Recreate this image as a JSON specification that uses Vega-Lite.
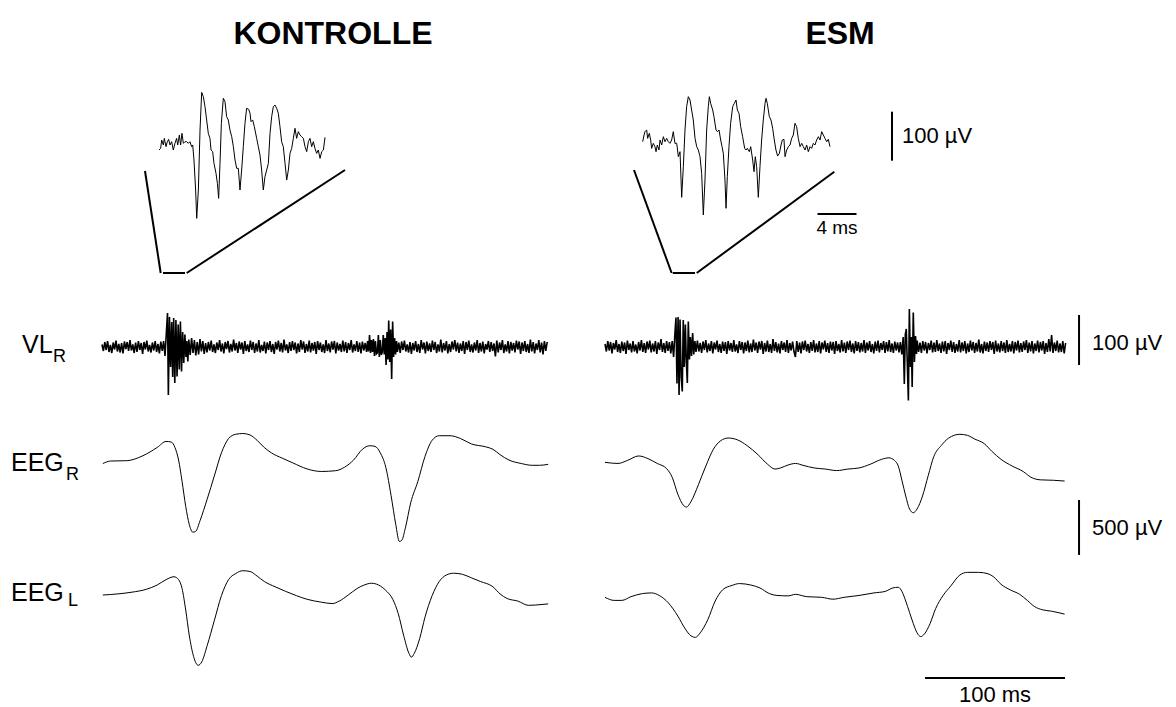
{
"$schema": "https://vega.github.io/schema/vega-lite/v6.json",
"width": 1176, "height": 707, "autosize": "none", "padding": 0,
"background": "white",
"config": {"view": {"stroke": null}, "font": "Liberation Sans"},
"datasets": {
"insK": [{"t":0.10,"v":-8.2},{"t":0.27,"v":-4.8},{"t":0.38,"v":12.2},{"t":0.55,"v":2.0},{"t":0.65,"v":15.6},{"t":0.82,"v":-1.4},{"t":0.96,"v":8.8},{"t":1.09,"v":13.6},{"t":1.23,"v":2.0},{"t":1.40,"v":8.8},{"t":1.57,"v":-8.2},{"t":1.74,"v":5.4},{"t":1.91,"v":15.6},{"t":2.02,"v":2.0},{"t":2.19,"v":22.4},{"t":2.32,"v":2.0},{"t":2.46,"v":25.9},{"t":2.60,"v":5.4},{"t":2.77,"v":8.8},{"t":2.94,"v":8.8},{"t":3.11,"v":5.4},{"t":3.28,"v":8.8},{"t":3.45,"v":-1.4},{"t":3.56,"v":2.0},{"t":3.69,"v":-28.6},{"t":3.86,"v":-89.8},{"t":3.97,"v":-147.6},{"t":4.14,"v":-89.8},{"t":4.31,"v":32.7},{"t":4.48,"v":109.5},{"t":4.65,"v":100.7},{"t":4.82,"v":80.3},{"t":4.99,"v":53.1},{"t":5.16,"v":25.9},{"t":5.33,"v":15.6},{"t":5.44,"v":-8.2},{"t":5.61,"v":-11.6},{"t":5.74,"v":-35.4},{"t":5.95,"v":-55.8},{"t":6.09,"v":-76.2},{"t":6.22,"v":-106.8},{"t":6.36,"v":-35.4},{"t":6.50,"v":46.3},{"t":6.70,"v":97.3},{"t":6.87,"v":90.5},{"t":7.04,"v":59.9},{"t":7.21,"v":53.1},{"t":7.38,"v":32.7},{"t":7.56,"v":19.0},{"t":7.73,"v":-1.4},{"t":7.90,"v":-28.6},{"t":8.07,"v":-45.6},{"t":8.24,"v":-45.6},{"t":8.41,"v":-89.8},{"t":8.58,"v":-49.0},{"t":8.75,"v":-1.4},{"t":8.92,"v":46.3},{"t":9.09,"v":76.9},{"t":9.30,"v":74.8},{"t":9.44,"v":66.7},{"t":9.54,"v":49.7},{"t":9.71,"v":53.1},{"t":9.88,"v":39.5},{"t":10.12,"v":15.6},{"t":10.29,"v":-1.4},{"t":10.46,"v":-18.4},{"t":10.63,"v":-49.0},{"t":10.80,"v":-89.8},{"t":10.97,"v":-62.6},{"t":11.15,"v":-49.0},{"t":11.32,"v":-35.4},{"t":11.49,"v":25.9},{"t":11.66,"v":59.9},{"t":11.83,"v":80.3},{"t":12.00,"v":83.7},{"t":12.17,"v":76.9},{"t":12.34,"v":66.7},{"t":12.51,"v":39.5},{"t":12.68,"v":8.8},{"t":12.85,"v":-1.4},{"t":13.03,"v":-35.4},{"t":13.20,"v":-69.4},{"t":13.37,"v":-49.0},{"t":13.54,"v":-15.0},{"t":13.71,"v":-4.8},{"t":13.88,"v":15.6},{"t":14.05,"v":36.1},{"t":14.22,"v":15.6},{"t":14.39,"v":29.3},{"t":14.56,"v":22.4},{"t":14.74,"v":19.0},{"t":14.91,"v":15.6},{"t":15.08,"v":-1.4},{"t":15.25,"v":-11.6},{"t":15.42,"v":8.8},{"t":15.59,"v":15.6},{"t":15.76,"v":-1.4},{"t":15.93,"v":8.8},{"t":16.10,"v":-4.8},{"t":16.27,"v":-15.0},{"t":16.44,"v":-8.2},{"t":16.62,"v":-25.2},{"t":16.79,"v":-11.6},{"t":16.96,"v":-8.2},{"t":17.13,"v":17.7}],
"insE": [{"t":0.07,"v":8.8},{"t":0.21,"v":22.4},{"t":0.31,"v":29.3},{"t":0.48,"v":32.7},{"t":0.58,"v":15.6},{"t":0.75,"v":25.9},{"t":0.89,"v":12.2},{"t":0.99,"v":-4.8},{"t":1.16,"v":5.4},{"t":1.33,"v":-1.4},{"t":1.44,"v":-11.6},{"t":1.57,"v":2.0},{"t":1.74,"v":-8.2},{"t":1.85,"v":12.2},{"t":2.02,"v":2.0},{"t":2.19,"v":19.0},{"t":2.36,"v":8.8},{"t":2.53,"v":15.6},{"t":2.70,"v":8.8},{"t":2.87,"v":5.4},{"t":3.04,"v":12.2},{"t":3.21,"v":29.3},{"t":3.38,"v":5.4},{"t":3.56,"v":5.4},{"t":3.73,"v":-21.8},{"t":3.90,"v":-11.6},{"t":4.07,"v":-104.8},{"t":4.24,"v":-42.2},{"t":4.41,"v":32.7},{"t":4.58,"v":80.3},{"t":4.75,"v":100.7},{"t":4.92,"v":93.9},{"t":5.09,"v":73.5},{"t":5.26,"v":53.1},{"t":5.44,"v":15.6},{"t":5.61,"v":-1.4},{"t":5.78,"v":-8.2},{"t":5.95,"v":-21.8},{"t":6.12,"v":-55.8},{"t":6.29,"v":-140.8},{"t":6.46,"v":-69.4},{"t":6.63,"v":32.7},{"t":6.80,"v":80.3},{"t":6.91,"v":100.7},{"t":7.04,"v":87.1},{"t":7.25,"v":73.5},{"t":7.38,"v":59.9},{"t":7.59,"v":32.7},{"t":7.73,"v":29.3},{"t":7.90,"v":32.7},{"t":8.07,"v":12.2},{"t":8.21,"v":-1.4},{"t":8.34,"v":-15.0},{"t":8.51,"v":-69.4},{"t":8.62,"v":-127.2},{"t":8.75,"v":-62.6},{"t":8.92,"v":-1.4},{"t":9.09,"v":46.3},{"t":9.30,"v":80.3},{"t":9.47,"v":87.1},{"t":9.64,"v":93.9},{"t":9.78,"v":73.5},{"t":9.95,"v":66.7},{"t":10.12,"v":39.5},{"t":10.32,"v":19.0},{"t":10.53,"v":-4.8},{"t":10.67,"v":-8.2},{"t":10.80,"v":-4.8},{"t":11.01,"v":-11.6},{"t":11.15,"v":-1.4},{"t":11.35,"v":-28.6},{"t":11.49,"v":-52.4},{"t":11.62,"v":-21.8},{"t":11.76,"v":-42.2},{"t":11.93,"v":-104.8},{"t":12.10,"v":-42.2},{"t":12.27,"v":12.2},{"t":12.44,"v":53.1},{"t":12.62,"v":87.1},{"t":12.72,"v":97.3},{"t":12.85,"v":87.1},{"t":13.06,"v":59.9},{"t":13.23,"v":53.1},{"t":13.40,"v":36.1},{"t":13.57,"v":12.2},{"t":13.74,"v":-8.2},{"t":13.91,"v":-20.4},{"t":14.09,"v":-15.0},{"t":14.26,"v":2.0},{"t":14.39,"v":12.2},{"t":14.56,"v":13.6},{"t":14.67,"v":-21.8},{"t":14.84,"v":-8.2},{"t":15.01,"v":-1.4},{"t":15.18,"v":2.0},{"t":15.35,"v":15.6},{"t":15.52,"v":22.4},{"t":15.69,"v":46.3},{"t":15.86,"v":39.5},{"t":16.03,"v":15.6},{"t":16.21,"v":-1.4},{"t":16.38,"v":5.4},{"t":16.55,"v":-1.4},{"t":16.72,"v":-8.2},{"t":16.89,"v":2.0},{"t":17.06,"v":-11.6},{"t":17.23,"v":-1.4},{"t":17.40,"v":-4.8},{"t":17.57,"v":5.4},{"t":17.74,"v":2.0},{"t":17.91,"v":12.2},{"t":18.09,"v":19.0},{"t":18.26,"v":12.2},{"t":18.43,"v":29.3},{"t":18.60,"v":22.4},{"t":18.77,"v":15.6},{"t":18.94,"v":8.8},{"t":19.11,"v":13.6},{"t":19.28,"v":-1.4}],
"vlK": [{"t":0,"v":5},{"t":1,"v":-8},{"t":2,"v":10},{"t":3,"v":-6},{"t":4,"v":12},{"t":5,"v":-10},{"t":6,"v":4},{"t":7,"v":-12},{"t":8,"v":9},{"t":9,"v":-5},{"t":10,"v":13},{"t":11,"v":-9},{"t":12,"v":6},{"t":13,"v":-11},{"t":14,"v":8},{"t":15,"v":-13},{"t":16,"v":11},{"t":17,"v":-4},{"t":18,"v":10},{"t":19,"v":-8},{"t":20,"v":14},{"t":21,"v":-7},{"t":22,"v":5},{"t":23,"v":-12},{"t":24,"v":9},{"t":25,"v":-10},{"t":26,"v":12},{"t":27,"v":-6},{"t":28,"v":8},{"t":29,"v":-14},{"t":30,"v":10},{"t":31,"v":-5},{"t":32,"v":13},{"t":33,"v":-9},{"t":34,"v":4},{"t":35,"v":-11},{"t":36,"v":9},{"t":37,"v":-7},{"t":38,"v":12},{"t":39,"v":-10},{"t":40,"v":6},{"t":41,"v":-13},{"t":42,"v":11},{"t":43,"v":-8},{"t":44,"v":12},{"t":45,"v":-18},{"t":46,"v":30},{"t":46.8,"v":68},{"t":47.4,"v":-96},{"t":48.2,"v":60},{"t":49,"v":-40},{"t":49.8,"v":50},{"t":50.5,"v":-60},{"t":51.2,"v":58},{"t":52,"v":-72},{"t":52.8,"v":54},{"t":53.6,"v":-59},{"t":54.4,"v":45},{"t":55.2,"v":-45},{"t":56,"v":51},{"t":56.8,"v":-49},{"t":57.6,"v":30},{"t":58.4,"v":-32},{"t":59.2,"v":25},{"t":60,"v":-20},{"t":60.6,"v":12},{"t":61.3,"v":-29},{"t":62,"v":15},{"t":63,"v":-16},{"t":64,"v":18},{"t":65,"v":-12},{"t":66,"v":14},{"t":67,"v":-17},{"t":68,"v":10},{"t":69,"v":-15},{"t":70,"v":16},{"t":71,"v":-9},{"t":72,"v":12},{"t":73,"v":-14},{"t":74,"v":8},{"t":75,"v":-11},{"t":76,"v":10},{"t":77,"v":-7},{"t":78,"v":13},{"t":79,"v":-10},{"t":80,"v":5},{"t":81,"v":-12},{"t":82,"v":9},{"t":83,"v":-6},{"t":84,"v":14},{"t":85,"v":-9},{"t":86,"v":7},{"t":87,"v":-13},{"t":88,"v":10},{"t":89,"v":-4},{"t":90,"v":12},{"t":91,"v":-11},{"t":92,"v":6},{"t":93,"v":-9},{"t":94,"v":15},{"t":95,"v":-7},{"t":96,"v":8},{"t":97,"v":-12},{"t":98,"v":11},{"t":99,"v":-5},{"t":100,"v":9},{"t":101,"v":-14},{"t":102,"v":12},{"t":103,"v":-8},{"t":104,"v":5},{"t":105,"v":-10},{"t":106,"v":13},{"t":107,"v":-6},{"t":108,"v":10},{"t":109,"v":-12},{"t":110,"v":7},{"t":111,"v":-9},{"t":112,"v":14},{"t":113,"v":-11},{"t":114,"v":4},{"t":115,"v":-8},{"t":116,"v":11},{"t":117,"v":-13},{"t":118,"v":9},{"t":119,"v":-6},{"t":120,"v":12},{"t":121,"v":-10},{"t":122,"v":6},{"t":123,"v":-14},{"t":124,"v":10},{"t":125,"v":-5},{"t":126,"v":13},{"t":127,"v":-9},{"t":128,"v":8},{"t":129,"v":-11},{"t":130,"v":15},{"t":131,"v":-7},{"t":132,"v":5},{"t":133,"v":-12},{"t":134,"v":10},{"t":135,"v":-8},{"t":136,"v":12},{"t":137,"v":-6},{"t":138,"v":9},{"t":139,"v":-13},{"t":140,"v":7},{"t":141,"v":-10},{"t":142,"v":14},{"t":143,"v":-5},{"t":144,"v":11},{"t":145,"v":-12},{"t":146,"v":6},{"t":147,"v":-9},{"t":148,"v":13},{"t":149,"v":-11},{"t":150,"v":8},{"t":151,"v":-7},{"t":152,"v":10},{"t":153,"v":-14},{"t":154,"v":12},{"t":155,"v":-6},{"t":156,"v":9},{"t":157,"v":-10},{"t":158,"v":5},{"t":159,"v":-12},{"t":160,"v":14},{"t":161,"v":-8},{"t":162,"v":7},{"t":163,"v":-11},{"t":164,"v":11},{"t":165,"v":-5},{"t":166,"v":12},{"t":167,"v":-13},{"t":168,"v":9},{"t":169,"v":-7},{"t":170,"v":6},{"t":171,"v":-10},{"t":172,"v":13},{"t":173,"v":-9},{"t":174,"v":10},{"t":175,"v":-12},{"t":176,"v":8},{"t":177,"v":-6},{"t":178,"v":14},{"t":179,"v":-11},{"t":180,"v":5},{"t":181,"v":-8},{"t":182,"v":12},{"t":183,"v":-10},{"t":184,"v":9},{"t":185,"v":-13},{"t":186,"v":11},{"t":187,"v":-7},{"t":188,"v":8},{"t":189,"v":-10},{"t":189.7,"v":12},{"t":190.4,"v":-9},{"t":191.1,"v":24},{"t":191.8,"v":-12},{"t":192.5,"v":14},{"t":193.2,"v":-10},{"t":193.9,"v":16},{"t":194.6,"v":-18},{"t":195.3,"v":12},{"t":196,"v":-14},{"t":196.7,"v":-12},{"t":197.4,"v":24},{"t":198.1,"v":-20},{"t":198.8,"v":14},{"t":199.5,"v":-16},{"t":200.2,"v":-10},{"t":200.9,"v":24},{"t":201.6,"v":-15},{"t":202.3,"v":18},{"t":202.9,"v":-36},{"t":203.6,"v":30},{"t":204.2,"v":-25},{"t":204.8,"v":53},{"t":205.5,"v":-30},{"t":206.2,"v":35},{"t":206.9,"v":-64},{"t":207.6,"v":51},{"t":208.3,"v":-20},{"t":209,"v":18},{"t":209.7,"v":-15},{"t":210.4,"v":12},{"t":211,"v":-10},{"t":212,"v":9},{"t":213,"v":-12},{"t":214,"v":11},{"t":215,"v":-6},{"t":216,"v":13},{"t":217,"v":-9},{"t":218,"v":5},{"t":219,"v":-11},{"t":220,"v":10},{"t":221,"v":-14},{"t":222,"v":8},{"t":223,"v":-7},{"t":224,"v":12},{"t":225,"v":-10},{"t":226,"v":6},{"t":227,"v":-12},{"t":228,"v":14},{"t":229,"v":-5},{"t":230,"v":9},{"t":231,"v":-13},{"t":232,"v":11},{"t":233,"v":-8},{"t":234,"v":7},{"t":235,"v":-10},{"t":236,"v":13},{"t":237,"v":-6},{"t":238,"v":10},{"t":239,"v":-12},{"t":240,"v":5},{"t":241,"v":-9},{"t":242,"v":15},{"t":243,"v":-11},{"t":244,"v":8},{"t":245,"v":-7},{"t":246,"v":12},{"t":247,"v":-13},{"t":248,"v":6},{"t":249,"v":-10},{"t":250,"v":11},{"t":251,"v":-5},{"t":252,"v":14},{"t":253,"v":-9},{"t":254,"v":9},{"t":255,"v":-12},{"t":256,"v":7},{"t":257,"v":-8},{"t":258,"v":12},{"t":259,"v":-14},{"t":260,"v":10},{"t":261,"v":-6},{"t":262,"v":13},{"t":263,"v":-10},{"t":264,"v":5},{"t":265,"v":-11},{"t":266,"v":9},{"t":267,"v":-7},{"t":268,"v":14},{"t":269,"v":-12},{"t":270,"v":8},{"t":271,"v":-9},{"t":272,"v":11},{"t":273,"v":-13},{"t":274,"v":6},{"t":275,"v":-5},{"t":276,"v":12},{"t":277,"v":-10},{"t":278,"v":10},{"t":279,"v":-8},{"t":280,"v":7},{"t":281,"v":-19},{"t":282,"v":13},{"t":283,"v":-11},{"t":284,"v":9},{"t":285,"v":-6},{"t":286,"v":14},{"t":287,"v":-12},{"t":288,"v":5},{"t":289,"v":-9},{"t":290,"v":12},{"t":291,"v":-13},{"t":292,"v":10},{"t":293,"v":-7},{"t":294,"v":8},{"t":295,"v":-11},{"t":296,"v":13},{"t":297,"v":-5},{"t":298,"v":11},{"t":299,"v":-14},{"t":300,"v":9},{"t":301,"v":-8},{"t":302,"v":12},{"t":303,"v":-10},{"t":304,"v":6},{"t":305,"v":-12},{"t":306,"v":15},{"t":307,"v":-9},{"t":308,"v":10},{"t":309,"v":-13},{"t":310,"v":7},{"t":311,"v":-6},{"t":312,"v":14},{"t":313,"v":-11},{"t":314,"v":9},{"t":315,"v":-15},{"t":316,"v":12},{"t":317,"v":-8},{"t":318,"v":10}],
"vlE": [{"t":0,"v":6},{"t":1,"v":-9},{"t":2,"v":12},{"t":3,"v":-7},{"t":4,"v":10},{"t":5,"v":-13},{"t":6,"v":8},{"t":7,"v":-5},{"t":8,"v":14},{"t":9,"v":-10},{"t":10,"v":6},{"t":11,"v":-12},{"t":12,"v":11},{"t":13,"v":-8},{"t":14,"v":9},{"t":15,"v":-14},{"t":16,"v":13},{"t":17,"v":-6},{"t":18,"v":7},{"t":19,"v":-11},{"t":20,"v":12},{"t":21,"v":-9},{"t":22,"v":5},{"t":23,"v":-13},{"t":24,"v":10},{"t":25,"v":-7},{"t":26,"v":14},{"t":27,"v":-10},{"t":28,"v":8},{"t":29,"v":-12},{"t":30,"v":11},{"t":31,"v":-5},{"t":32,"v":13},{"t":33,"v":-11},{"t":34,"v":7},{"t":35,"v":-9},{"t":36,"v":12},{"t":37,"v":-14},{"t":38,"v":9},{"t":39,"v":-6},{"t":40,"v":16},{"t":41,"v":-10},{"t":42,"v":8},{"t":43,"v":-12},{"t":44,"v":12},{"t":45,"v":-8},{"t":46,"v":10},{"t":47,"v":-13},{"t":48,"v":12},{"t":49,"v":-20},{"t":50,"v":30},{"t":50.7,"v":59},{"t":51.4,"v":-73},{"t":52.2,"v":60},{"t":52.9,"v":-96},{"t":53.6,"v":55},{"t":54.4,"v":-60},{"t":55.2,"v":-89},{"t":55.9,"v":54},{"t":56.6,"v":-40},{"t":57.4,"v":45},{"t":58.1,"v":-30},{"t":58.8,"v":-72},{"t":59.5,"v":51},{"t":60.3,"v":-25},{"t":61,"v":20},{"t":61.8,"v":-18},{"t":62.6,"v":28},{"t":63.4,"v":-15},{"t":64.2,"v":12},{"t":65,"v":-10},{"t":66,"v":13},{"t":67,"v":-9},{"t":68,"v":8},{"t":69,"v":-12},{"t":70,"v":11},{"t":71,"v":-6},{"t":72,"v":14},{"t":73,"v":-11},{"t":74,"v":7},{"t":75,"v":-8},{"t":76,"v":12},{"t":77,"v":-13},{"t":78,"v":9},{"t":79,"v":-5},{"t":80,"v":13},{"t":81,"v":-10},{"t":82,"v":6},{"t":83,"v":-12},{"t":84,"v":11},{"t":85,"v":-8},{"t":86,"v":10},{"t":87,"v":-14},{"t":88,"v":12},{"t":89,"v":-7},{"t":90,"v":8},{"t":91,"v":-10},{"t":92,"v":14},{"t":93,"v":-9},{"t":94,"v":5},{"t":95,"v":-12},{"t":96,"v":12},{"t":97,"v":-6},{"t":98,"v":10},{"t":99,"v":-13},{"t":100,"v":9},{"t":101,"v":-8},{"t":102,"v":13},{"t":103,"v":-11},{"t":104,"v":7},{"t":105,"v":-10},{"t":106,"v":15},{"t":107,"v":-7},{"t":108,"v":9},{"t":109,"v":-12},{"t":110,"v":11},{"t":111,"v":-5},{"t":112,"v":12},{"t":113,"v":-14},{"t":114,"v":8},{"t":115,"v":-9},{"t":116,"v":13},{"t":117,"v":-10},{"t":118,"v":6},{"t":119,"v":-12},{"t":120,"v":16},{"t":121,"v":-8},{"t":122,"v":10},{"t":123,"v":-11},{"t":124,"v":7},{"t":125,"v":-13},{"t":126,"v":12},{"t":127,"v":-6},{"t":128,"v":9},{"t":129,"v":-10},{"t":130,"v":14},{"t":131,"v":-12},{"t":132,"v":8},{"t":133,"v":-7},{"t":134,"v":11},{"t":135,"v":-9},{"t":136,"v":-20},{"t":137,"v":12},{"t":138,"v":-10},{"t":139,"v":9},{"t":140,"v":-13},{"t":141,"v":11},{"t":142,"v":-6},{"t":143,"v":13},{"t":144,"v":-9},{"t":145,"v":6},{"t":146,"v":-12},{"t":147,"v":10},{"t":148,"v":-8},{"t":149,"v":14},{"t":150,"v":-11},{"t":151,"v":7},{"t":152,"v":-10},{"t":153,"v":12},{"t":154,"v":-13},{"t":155,"v":9},{"t":156,"v":-5},{"t":157,"v":13},{"t":158,"v":-10},{"t":159,"v":8},{"t":160,"v":-12},{"t":161,"v":11},{"t":162,"v":-7},{"t":163,"v":10},{"t":164,"v":-14},{"t":165,"v":12},{"t":166,"v":-8},{"t":167,"v":6},{"t":168,"v":-11},{"t":169,"v":14},{"t":170,"v":-9},{"t":171,"v":9},{"t":172,"v":-12},{"t":173,"v":11},{"t":174,"v":-6},{"t":175,"v":13},{"t":176,"v":-10},{"t":177,"v":7},{"t":178,"v":-13},{"t":179,"v":12},{"t":180,"v":-8},{"t":181,"v":10},{"t":182,"v":-11},{"t":183,"v":8},{"t":184,"v":-9},{"t":185,"v":14},{"t":186,"v":-12},{"t":187,"v":9},{"t":188,"v":-7},{"t":189,"v":12},{"t":190,"v":-10},{"t":191,"v":6},{"t":192,"v":-13},{"t":193,"v":11},{"t":194,"v":-8},{"t":195,"v":13},{"t":196,"v":-11},{"t":197,"v":8},{"t":198,"v":-6},{"t":199,"v":12},{"t":200,"v":-12},{"t":201,"v":10},{"t":202,"v":-9},{"t":203,"v":14},{"t":204,"v":-10},{"t":205,"v":7},{"t":206,"v":-12},{"t":207,"v":11},{"t":208,"v":-7},{"t":209,"v":9},{"t":210,"v":-11},{"t":211,"v":10},{"t":212,"v":-15},{"t":213,"v":20},{"t":213.8,"v":-74},{"t":214.5,"v":25},{"t":215.2,"v":36},{"t":215.9,"v":-30},{"t":216.7,"v":-107},{"t":217.4,"v":76},{"t":218.2,"v":-40},{"t":218.8,"v":20},{"t":219.4,"v":-80},{"t":220.2,"v":69},{"t":221,"v":-30},{"t":221.8,"v":22},{"t":222.5,"v":-14},{"t":223,"v":13},{"t":224,"v":-10},{"t":225,"v":9},{"t":226,"v":-12},{"t":227,"v":12},{"t":228,"v":-7},{"t":229,"v":10},{"t":230,"v":-13},{"t":231,"v":8},{"t":232,"v":-6},{"t":233,"v":13},{"t":234,"v":-11},{"t":235,"v":9},{"t":236,"v":-10},{"t":237,"v":14},{"t":238,"v":-8},{"t":239,"v":7},{"t":240,"v":-12},{"t":241,"v":11},{"t":242,"v":-9},{"t":243,"v":12},{"t":244,"v":-14},{"t":245,"v":8},{"t":246,"v":-6},{"t":247,"v":13},{"t":248,"v":-10},{"t":249,"v":10},{"t":250,"v":-12},{"t":251,"v":6},{"t":252,"v":-9},{"t":253,"v":14},{"t":254,"v":-11},{"t":255,"v":9},{"t":256,"v":-8},{"t":257,"v":12},{"t":258,"v":-13},{"t":259,"v":7},{"t":260,"v":-10},{"t":261,"v":13},{"t":262,"v":-7},{"t":263,"v":10},{"t":264,"v":-12},{"t":265,"v":8},{"t":266,"v":-9},{"t":267,"v":15},{"t":268,"v":-11},{"t":269,"v":6},{"t":270,"v":-13},{"t":271,"v":11},{"t":272,"v":-8},{"t":273,"v":9},{"t":274,"v":-10},{"t":275,"v":12},{"t":276,"v":-6},{"t":277,"v":10},{"t":278,"v":-14},{"t":279,"v":13},{"t":280,"v":-9},{"t":281,"v":7},{"t":282,"v":-11},{"t":283,"v":12},{"t":284,"v":-8},{"t":285,"v":9},{"t":286,"v":-12},{"t":287,"v":14},{"t":288,"v":-10},{"t":289,"v":6},{"t":290,"v":-9},{"t":291,"v":12},{"t":292,"v":-13},{"t":293,"v":10},{"t":294,"v":-7},{"t":295,"v":13},{"t":296,"v":-11},{"t":297,"v":8},{"t":298,"v":-10},{"t":299,"v":11},{"t":300,"v":-6},{"t":301,"v":14},{"t":302,"v":-12},{"t":303,"v":9},{"t":304,"v":-9},{"t":305,"v":12},{"t":306,"v":-13},{"t":307,"v":7},{"t":308,"v":-8},{"t":309,"v":13},{"t":310,"v":-11},{"t":311,"v":10},{"t":312,"v":-7},{"t":313,"v":12},{"t":314,"v":-14},{"t":315,"v":8},{"t":316,"v":-10},{"t":317,"v":16},{"t":318,"v":-9},{"t":319,"v":24},{"t":320,"v":-12},{"t":321,"v":9},{"t":322,"v":-8},{"t":323,"v":13},{"t":324,"v":-11},{"t":325,"v":7},{"t":326,"v":-10},{"t":327,"v":12},{"t":328,"v":-13},{"t":329,"v":8}],
"eegRK": [{"t":0.6,"v":-5},{"t":6.2,"v":18},{"t":17.7,"v":21},{"t":29.2,"v":66},{"t":39.4,"v":141},{"t":45.8,"v":196},{"t":49.6,"v":190},{"t":52.1,"v":141},{"t":54.7,"v":27},{"t":57.2,"v":-168},{"t":59.8,"v":-395},{"t":62.3,"v":-557},{"t":64.9,"v":-629},{"t":66.9,"v":-622},{"t":70.0,"v":-525},{"t":75.1,"v":-330},{"t":80.2,"v":-119},{"t":85.3,"v":92},{"t":90.4,"v":222},{"t":95.5,"v":261},{"t":100.6,"v":268},{"t":105.7,"v":255},{"t":110.8,"v":206},{"t":115.9,"v":141},{"t":121.0,"v":92},{"t":128.7,"v":44},{"t":136.3,"v":1},{"t":146.5,"v":-54},{"t":156.7,"v":-77},{"t":166.9,"v":-70},{"t":173.3,"v":-38},{"t":179.7,"v":27},{"t":186.0,"v":125},{"t":191.2,"v":157},{"t":195.0,"v":151},{"t":198.8,"v":92},{"t":202.7,"v":-38},{"t":206.5,"v":-297},{"t":209.8,"v":-557},{"t":212.4,"v":-713},{"t":214.1,"v":-703},{"t":216.7,"v":-590},{"t":220.5,"v":-362},{"t":225.6,"v":-168},{"t":230.7,"v":59},{"t":235.8,"v":206},{"t":240.9,"v":248},{"t":248.6,"v":248},{"t":256.2,"v":222},{"t":263.9,"v":173},{"t":274.1,"v":147},{"t":279.2,"v":125},{"t":284.3,"v":76},{"t":290.7,"v":27},{"t":299.6,"v":-5},{"t":307.3,"v":-21},{"t":312.4,"v":-21},{"t":318.7,"v":-12}],
"eegRE": [{"t":0,"v":6},{"t":9.3,"v":-4},{"t":16.0,"v":23},{"t":24.0,"v":64},{"t":30.7,"v":40},{"t":37.3,"v":-4},{"t":44.0,"v":-51},{"t":48.0,"v":-130},{"t":52.0,"v":-283},{"t":56.0,"v":-384},{"t":58.1,"v":-401},{"t":61.4,"v":-351},{"t":66.7,"v":-198},{"t":72.0,"v":-28},{"t":77.4,"v":125},{"t":82.7,"v":203},{"t":88.0,"v":227},{"t":94.7,"v":210},{"t":101.4,"v":159},{"t":109.4,"v":74},{"t":116.1,"v":-11},{"t":121.4,"v":-55},{"t":125.4,"v":-45},{"t":130.8,"v":-18},{"t":136.1,"v":-4},{"t":141.4,"v":-21},{"t":149.4,"v":-45},{"t":157.4,"v":-55},{"t":165.4,"v":-69},{"t":173.5,"v":-55},{"t":181.5,"v":-45},{"t":189.5,"v":-11},{"t":197.5,"v":33},{"t":202.8,"v":47},{"t":206.8,"v":23},{"t":209.5,"v":-28},{"t":212.2,"v":-164},{"t":214.8,"v":-300},{"t":217.5,"v":-418},{"t":220.2,"v":-452},{"t":222.9,"v":-418},{"t":226.8,"v":-300},{"t":230.9,"v":-113},{"t":234.8,"v":57},{"t":240.2,"v":159},{"t":245.5,"v":227},{"t":253.5,"v":261},{"t":258.9,"v":251},{"t":264.2,"v":217},{"t":270.9,"v":176},{"t":276.2,"v":108},{"t":282.9,"v":33},{"t":290.9,"v":-28},{"t":298.9,"v":-79},{"t":304.3,"v":-130},{"t":310.9,"v":-153},{"t":320.3,"v":-157},{"t":328.3,"v":-164}],
"eegLK": [{"t":0.6,"v":9},{"t":11.3,"v":19},{"t":21.5,"v":35},{"t":31.7,"v":61},{"t":39.4,"v":100},{"t":45.8,"v":149},{"t":51.4,"v":175},{"t":54.7,"v":149},{"t":57.2,"v":68},{"t":59.8,"v":-128},{"t":62.3,"v":-355},{"t":65.4,"v":-549},{"t":68.7,"v":-630},{"t":71.3,"v":-598},{"t":75.1,"v":-452},{"t":80.2,"v":-225},{"t":85.3,"v":3},{"t":90.4,"v":149},{"t":95.5,"v":204},{"t":100.6,"v":230},{"t":105.7,"v":223},{"t":110.8,"v":181},{"t":115.9,"v":132},{"t":123.6,"v":84},{"t":131.2,"v":42},{"t":138.9,"v":3},{"t":146.5,"v":-30},{"t":156.7,"v":-56},{"t":164.4,"v":-69},{"t":169.5,"v":-46},{"t":175.9,"v":9},{"t":182.2,"v":68},{"t":187.3,"v":100},{"t":192.4,"v":116},{"t":197.5,"v":100},{"t":202.7,"v":51},{"t":207.7,"v":-30},{"t":211.6,"v":-160},{"t":215.4,"v":-355},{"t":219.3,"v":-523},{"t":221.0,"v":-556},{"t":223.0,"v":-523},{"t":226.9,"v":-387},{"t":230.7,"v":-193},{"t":235.8,"v":3},{"t":240.9,"v":132},{"t":246.0,"v":191},{"t":251.1,"v":207},{"t":257.5,"v":197},{"t":263.9,"v":165},{"t":270.3,"v":132},{"t":279.2,"v":84},{"t":284.3,"v":19},{"t":289.4,"v":-23},{"t":297.0,"v":-46},{"t":304.7,"v":-85},{"t":309.8,"v":-82},{"t":318.7,"v":-72}],
"eegLE": [{"t":0,"v":-12},{"t":6.6,"v":-40},{"t":12.0,"v":-40},{"t":18.6,"v":-6},{"t":26.7,"v":22},{"t":33.3,"v":28},{"t":38.7,"v":5},{"t":45.3,"v":-63},{"t":52.0,"v":-182},{"t":57.4,"v":-301},{"t":61.4,"v":-362},{"t":64.6,"v":-376},{"t":68.0,"v":-335},{"t":73.4,"v":-216},{"t":78.7,"v":-46},{"t":84.0,"v":56},{"t":90.7,"v":96},{"t":96.0,"v":113},{"t":104.1,"v":100},{"t":110.7,"v":73},{"t":117.4,"v":22},{"t":122.8,"v":5},{"t":130.8,"v":1},{"t":136.1,"v":15},{"t":144.1,"v":-6},{"t":154.8,"v":-12},{"t":162.8,"v":-29},{"t":170.8,"v":-12},{"t":181.5,"v":5},{"t":192.1,"v":28},{"t":200.2,"v":42},{"t":205.5,"v":73},{"t":209.5,"v":79},{"t":212.2,"v":39},{"t":214.8,"v":-46},{"t":217.5,"v":-148},{"t":220.2,"v":-250},{"t":222.9,"v":-335},{"t":225.5,"v":-369},{"t":228.2,"v":-345},{"t":232.2,"v":-250},{"t":236.2,"v":-114},{"t":241.5,"v":5},{"t":246.9,"v":90},{"t":253.5,"v":191},{"t":258.9,"v":215},{"t":266.9,"v":215},{"t":273.6,"v":202},{"t":277.6,"v":174},{"t":282.9,"v":106},{"t":289.6,"v":55},{"t":296.2,"v":15},{"t":301.6,"v":-40},{"t":306.9,"v":-97},{"t":312.3,"v":-125},{"t":318.9,"v":-138},{"t":328.3,"v":-165}]
},
"resolve": {"scale": {"x": "independent", "y": "independent"}},
"layer": [
{
"encoding": {
"x": {"field": "t", "type": "quantitative", "scale": {"domain": [-16.205, 104.41], "nice": false, "zero": false}, "axis": null},
"y": {"field": "v", "type": "quantitative", "scale": {"domain": [-1144.9, 297.96], "nice": false, "zero": false}, "axis": null}
},
"layer": [
{"data": {"name": "insK"}, "mark": {"type": "line", "color": "black", "strokeWidth": 1}, "encoding": {}}
]
},
{
"encoding": {
"x": {"field": "t", "type": "quantitative", "scale": {"domain": [-65.846, 54.769], "nice": false, "zero": false}, "axis": null},
"y": {"field": "v", "type": "quantitative", "scale": {"domain": [-1144.9, 297.96], "nice": false, "zero": false}, "axis": null}
},
"layer": [
{"data": {"name": "insE"}, "mark": {"type": "line", "color": "black", "strokeWidth": 1}, "encoding": {}},
{"data": {"values": [{"bar": "100 µV", "t": 25.64, "t2": 25.64, "v": -30, "v2": 70}, {"bar": "4 ms", "t": 18, "t2": 22, "v": -139, "v2": -139}]},
 "mark": {"type": "rule", "color": "black", "strokeWidth": 2}, "encoding": {"x2": {"field": "t2"}, "y2": {"field": "v2"}}},
{"data": {"values": [{"label": "100 µV", "t": 26.67, "v": 20}]},
 "mark": {"type": "text", "align": "left", "baseline": "middle", "fontSize": 22, "font": "Liberation Sans", "color": "black"}, "encoding": {"text": {"field": "label"}}},
{"data": {"values": [{"label": "4 ms", "t": 20, "v": -167}]},
 "mark": {"type": "text", "align": "center", "baseline": "middle", "fontSize": 19, "font": "Liberation Sans", "color": "black"}, "encoding": {"text": {"field": "label"}}}
]
},
{
"encoding": {
"x": {"field": "t", "type": "quantitative", "scale": {"domain": [-72.857, 767.143], "nice": false, "zero": false}, "axis": null},
"y": {"field": "v", "type": "quantitative", "scale": {"domain": [-720, 694], "nice": false, "zero": false}, "axis": null}
},
"layer": [
{"data": {"name": "vlK"}, "mark": {"type": "line", "color": "black", "strokeWidth": 1.6}, "encoding": {}},
{"data": {"values": [{"t": 30.71, "v": 352, "t2": 41.93, "v2": 148}, {"t": 43.57, "v": 148, "t2": 59.29, "v2": 148}, {"t": 60.5, "v": 148, "t2": 173.57, "v2": 354}]},
 "mark": {"type": "rule", "color": "black", "strokeWidth": 2}, "encoding": {"x2": {"field": "t2"}, "y2": {"field": "v2"}}},
{"data": {"values": [{"label": "VL", "t": -57.1, "v": -12}]},
 "mark": {"type": "text", "align": "left", "baseline": "alphabetic", "fontSize": 25, "font": "Liberation Sans", "color": "black"}, "encoding": {"text": {"field": "label"}}},
{"data": {"values": [{"label": "R", "t": -35, "v": -30}]},
 "mark": {"type": "text", "align": "left", "baseline": "alphabetic", "fontSize": 18, "font": "Liberation Sans", "color": "black"}, "encoding": {"text": {"field": "label"}}},
{"data": {"values": [{"label": "KONTROLLE", "t": 165, "v": 606}]},
 "mark": {"type": "text", "align": "center", "baseline": "alphabetic", "fontSize": 32, "fontWeight": "bold", "font": "Liberation Sans", "color": "black"}, "encoding": {"text": {"field": "label"}}}
]
},
{
"encoding": {
"x": {"field": "t", "type": "quantitative", "scale": {"domain": [-432.143, 407.857], "nice": false, "zero": false}, "axis": null},
"y": {"field": "v", "type": "quantitative", "scale": {"domain": [-720, 694], "nice": false, "zero": false}, "axis": null}
},
"layer": [
{"data": {"name": "vlE"}, "mark": {"type": "line", "color": "black", "strokeWidth": 1.6}, "encoding": {}},
{"data": {"values": [{"t": 20.7, "v": 354, "t2": 47.6, "v2": 148}, {"t": 48.4, "v": 148, "t2": 64.3, "v2": 148}, {"t": 65.5, "v": 148, "t2": 163.8, "v2": 350.6}, {"t": 338.6, "v": -36, "t2": 338.6, "v2": 64}]},
 "mark": {"type": "rule", "color": "black", "strokeWidth": 2}, "encoding": {"x2": {"field": "t2"}, "y2": {"field": "v2"}}},
{"data": {"values": [{"label": "100 µV", "t": 347.9, "v": 8}]},
 "mark": {"type": "text", "align": "left", "baseline": "middle", "fontSize": 22, "font": "Liberation Sans", "color": "black"}, "encoding": {"text": {"field": "label"}}},
{"data": {"values": [{"label": "ESM", "t": 167.9, "v": 606}]},
 "mark": {"type": "text", "align": "center", "baseline": "alphabetic", "fontSize": 32, "fontWeight": "bold", "font": "Liberation Sans", "color": "black"}, "encoding": {"text": {"field": "label"}}}
]
},
{
"encoding": {
"x": {"field": "t", "type": "quantitative", "scale": {"domain": [-72.857, 767.143], "nice": false, "zero": false}, "axis": null},
"y": {"field": "v", "type": "quantitative", "scale": {"domain": [-2218.18, 4209.09], "nice": false, "zero": false}, "axis": null}
},
"layer": [
{"data": {"name": "eegRK"}, "mark": {"type": "line", "color": "black", "strokeWidth": 1, "interpolate": "monotone"}, "encoding": {}},
{"data": {"values": [{"label": "EEG", "t": -65, "v": -72.7}]},
 "mark": {"type": "text", "align": "left", "baseline": "alphabetic", "fontSize": 25, "font": "Liberation Sans", "color": "black"}, "encoding": {"text": {"field": "label"}}},
{"data": {"values": [{"label": "R", "t": -25.7, "v": -154.5}]},
 "mark": {"type": "text", "align": "left", "baseline": "alphabetic", "fontSize": 18, "font": "Liberation Sans", "color": "black"}, "encoding": {"text": {"field": "label"}}}
]
},
{
"encoding": {
"x": {"field": "t", "type": "quantitative", "scale": {"domain": [-432.143, 407.857], "nice": false, "zero": false}, "axis": null},
"y": {"field": "v", "type": "quantitative", "scale": {"domain": [-2218.18, 4209.09], "nice": false, "zero": false}, "axis": null}
},
"layer": [
{"data": {"name": "eegRE"}, "mark": {"type": "line", "color": "black", "strokeWidth": 1, "interpolate": "monotone"}, "encoding": {}},
{"data": {"values": [{"t": 338.6, "v": -336, "t2": 338.6, "v2": -836}]},
 "mark": {"type": "rule", "color": "black", "strokeWidth": 2}, "encoding": {"x2": {"field": "t2"}, "y2": {"field": "v2"}}},
{"data": {"values": [{"label": "500 µV", "t": 347.9, "v": -591}]},
 "mark": {"type": "text", "align": "left", "baseline": "middle", "fontSize": 22, "font": "Liberation Sans", "color": "black"}, "encoding": {"text": {"field": "label"}}}
]
},
{
"encoding": {
"x": {"field": "t", "type": "quantitative", "scale": {"domain": [-72.857, 767.143], "nice": false, "zero": false}, "axis": null},
"y": {"field": "v", "type": "quantitative", "scale": {"domain": [-1009.09, 5418.18], "nice": false, "zero": false}, "axis": null}
},
"layer": [
{"data": {"name": "eegLK"}, "mark": {"type": "line", "color": "black", "strokeWidth": 1, "interpolate": "monotone"}, "encoding": {}},
{"data": {"values": [{"label": "EEG", "t": -65, "v": -45.5}]},
 "mark": {"type": "text", "align": "left", "baseline": "alphabetic", "fontSize": 25, "font": "Liberation Sans", "color": "black"}, "encoding": {"text": {"field": "label"}}},
{"data": {"values": [{"label": "L", "t": -24.3, "v": -90.9}]},
 "mark": {"type": "text", "align": "left", "baseline": "alphabetic", "fontSize": 18, "font": "Liberation Sans", "color": "black"}, "encoding": {"text": {"field": "label"}}}
]
},
{
"encoding": {
"x": {"field": "t", "type": "quantitative", "scale": {"domain": [-432.143, 407.857], "nice": false, "zero": false}, "axis": null},
"y": {"field": "v", "type": "quantitative", "scale": {"domain": [-1009.09, 5418.18], "nice": false, "zero": false}, "axis": null}
},
"layer": [
{"data": {"name": "eegLE"}, "mark": {"type": "line", "color": "black", "strokeWidth": 1, "interpolate": "monotone"}, "encoding": {}},
{"data": {"values": [{"t": 228.6, "v": -745, "t2": 328.6, "v2": -745}]},
 "mark": {"type": "rule", "color": "black", "strokeWidth": 2}, "encoding": {"x2": {"field": "t2"}, "y2": {"field": "v2"}}},
{"data": {"values": [{"label": "100 ms", "t": 278.6, "v": -900}]},
 "mark": {"type": "text", "align": "center", "baseline": "middle", "fontSize": 22, "font": "Liberation Sans", "color": "black"}, "encoding": {"text": {"field": "label"}}}
]
}
]
}
